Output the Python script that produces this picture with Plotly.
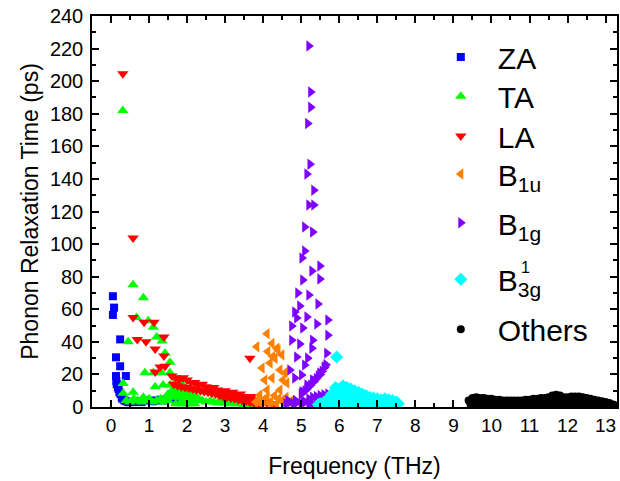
import plotly.graph_objects as go

# ---------------- data ----------------
za_x = [0.05, 0.08, 0.05, 0.24, 0.13, 0.24, 0.39, 0.13, 0.14, 0.15, 0.18, 0.20, 0.22, 0.25, 0.28,
        0.30, 0.35, 0.40, 0.45, 0.50, 0.60, 0.70, 0.80, 0.90, 1.00, 1.10, 1.20, 1.30, 1.40, 1.47, 1.60, 1.70]
za_y = [68, 61, 56.5, 41.5, 30.5, 25, 19, 19, 16, 14, 12, 11, 9, 8, 6,
        5, 4, 3.5, 3, 3, 3, 3.5, 3, 4, 4, 3.5, 4, 4.5, 4, 5, 5, 4]

ta_x = [0.31, 0.58, 0.85, 0.67, 0.98, 1.11, 0.45, 1.20, 1.34, 1.42, 1.55, 0.89, 1.11, 1.33, 1.55,
        1.81, 1.16, 1.37, 1.55, 0.32, 0.32, 0.58, 0.85,
        1.60, 1.65, 1.70, 1.75, 1.80, 1.85, 1.90, 1.95, 2.00, 2.05, 2.10, 2.15, 2.20, 2.25, 2.30,
        1.62, 1.72, 1.82, 1.92, 2.02, 2.12, 1.50, 1.45,
        0.40, 0.50, 0.60, 0.70, 0.80, 0.90, 1.00, 1.10, 1.20, 1.30, 1.40, 1.50,
        2.40, 2.50, 2.60, 2.70, 2.80, 2.90, 3.00, 3.10, 3.20, 3.30, 3.40, 3.50, 3.60, 3.70,
        1.70, 1.80, 1.90, 2.00, 2.10, 2.20]
ta_y = [182, 75, 67, 55, 53, 49, 40, 43, 40.5, 33, 27.5, 21, 21, 21, 21,
        15.5, 12.5, 13.5, 13.5, 14.5, 8.5, 9, 6,
        10, 14, 12, 9, 11, 8, 13, 7, 10, 6, 9, 5, 7, 4, 5,
        6, 7, 6, 5, 4, 4, 8, 6,
        4, 3, 5, 4, 3, 4, 5, 3, 4, 5, 3, 4,
        4, 3, 3.5, 3, 2.5, 3, 2.5, 2, 2.5, 2, 2, 1.5, 1.5, 1,
        2, 2, 2, 2, 2, 2]

la_x = [0.31, 0.58, 0.58, 0.87, 1.13, 0.69, 0.92, 1.16, 1.39, 1.39, 1.16, 1.29, 1.42, 3.65,
        1.60, 1.70, 1.80, 1.90, 2.00, 2.10, 2.20, 2.30, 2.40, 2.50, 2.60, 2.70, 2.80, 2.90,
        3.00, 3.10, 3.20, 3.30, 3.40, 3.50, 3.60, 3.70, 3.80, 3.90, 4.00, 4.10, 4.20, 4.30,
        1.65, 1.75, 1.85, 1.95, 2.05, 2.15, 2.25, 2.35, 2.45, 2.55, 2.65, 2.75, 2.85, 2.95,
        3.05, 3.15, 3.25, 3.35, 3.45, 3.55, 3.65, 3.75, 3.85, 3.95]
la_y = [204.5, 103.7, 55, 52, 52, 41.5, 40, 35.6, 43, 31.3, 21.5, 24.6, 25, 30,
        19, 18, 17, 18, 16.5, 15, 15, 13.5, 14, 12.5, 11.5, 12, 10.5, 9.5,
        10, 8.5, 9, 7.5, 8, 6.5, 6, 6.5, 4.5, 4, 3, 2.5, 2, 1.5,
        14, 13, 12.5, 12, 11.5, 11, 10.5, 10, 9.5, 9, 8.5, 8, 7, 6.5,
        6, 5.5, 5, 4.5, 4, 3.5, 3, 2.5, 2, 1.5]

b1u_x = [4.10, 3.83, 4.23, 4.12, 4.39, 4.49, 4.31, 3.97, 4.44, 4.23, 4.57, 4.04, 4.10, 4.44, 4.62,
         3.91, 4.36, 4.25, 4.52, 4.18,
         3.80, 3.90, 4.00, 4.10, 4.20, 4.30, 4.40, 4.50, 4.60, 4.70, 4.80, 3.95, 4.15, 4.35, 4.55, 4.75]
b1u_y = [45, 37, 39, 34, 35, 32, 30, 24, 22.7, 17.8, 21, 16.6, 10.4, 10.4, 14.7,
         7.4, 36, 31, 16.6, 27,
         3, 5, 4, 6, 3, 7, 5, 4, 6, 3, 2, 2, 2.5, 2, 3, 4]

b1g_x = [5.20, 5.25, 5.25, 5.17, 5.23, 5.15, 5.33, 5.20, 5.33, 5.09, 5.30, 5.09, 5.02, 5.28, 5.49,
         5.04, 5.49, 4.91, 5.20, 4.96, 5.44, 4.83, 4.88, 5.15, 4.75, 5.04, 5.41, 5.70, 4.75, 4.96,
         5.30, 5.70, 5.28, 4.88, 5.17, 5.67, 5.09, 5.62, 4.70, 5.01, 5.49, 5.30, 4.83, 5.15, 5.02,
         5.00, 5.05, 5.10, 5.15, 5.20, 5.25, 5.30, 5.35, 5.40, 5.45, 5.50, 5.55, 5.60, 5.65,
         5.20, 5.30, 5.40, 5.50, 5.60, 5.70, 5.75,
         4.60, 4.65, 4.70, 4.80, 4.85, 4.90, 5.00, 5.05, 5.10, 5.20, 5.30]
b1g_y = [221.6, 193.4, 184, 174, 149, 143, 133, 124, 124, 110.5, 107.4, 95.8, 91.5, 83.5, 86.6,
         78, 78.6, 70, 68.8, 62, 63.2, 58.3, 54.6, 55.2, 49.7, 48.5, 51, 53.4, 41, 38.7,
         41, 44, 36, 30.7, 30, 33, 25.8, 24.6, 22.7, 19.6, 20.9, 16.6, 17.8, 13.5, 9.2,
         8, 9, 10, 11, 12.5, 13.5, 15, 16, 17.5, 19, 20, 22, 24, 26,
         5, 6, 6.5, 7, 7.5, 8, 7,
         2, 4, 3, 2, 4, 3, 2, 4, 3, 2, 2]

b3g_x = [5.93,
         5.50, 5.60, 5.70, 5.80, 5.90, 6.00, 6.10, 6.20, 6.30, 6.40, 6.50, 6.60, 6.70, 6.80,
         6.90, 7.00, 7.10, 7.20, 7.30, 7.40, 7.50, 7.55,
         5.85, 5.95, 6.05, 6.15, 6.25, 6.35, 6.45, 6.55,
         5.45, 5.55, 5.65, 5.75, 5.85, 5.95, 6.05, 6.15, 6.25, 6.35, 6.45, 6.55, 6.65, 6.75,
         6.85, 6.95, 7.05, 7.15, 7.25, 7.35, 7.45]
b3g_y = [30.7,
         2, 3, 5, 8, 12, 11, 13, 12, 11, 10, 9, 8, 7, 6,
         5.5, 5, 4.5, 5, 4.5, 4, 3, 2,
         6, 7, 7, 6.5, 6, 6, 5, 4.5,
         1.5, 1.5, 1.5, 1.5, 1.5, 1.5, 1.5, 1.5, 1.5, 1.5, 1.5, 1.5, 1.5, 1.5,
         1.5, 1.5, 1.5, 1.5, 1.5, 1.5, 1.5]

others_x = [9.40, 9.50, 9.60, 9.70, 9.80, 9.90, 10.00, 10.10, 10.20, 10.30, 10.40, 10.50, 10.60,
            10.70, 10.80, 10.90, 11.00, 11.10, 11.20, 11.30, 11.40, 11.50, 11.60, 11.70, 11.80,
            11.90, 12.00, 12.10, 12.20, 12.30, 12.40, 12.50, 12.60, 12.70, 12.80, 12.90, 13.00,
            13.10, 13.20,
            9.45, 9.55, 9.65, 9.75, 9.85, 9.95, 10.05, 10.15, 10.25, 10.35, 10.45, 10.55, 10.65,
            10.75, 10.85, 10.95, 11.05, 11.15, 11.25, 11.35, 11.45, 11.55, 11.65, 11.75, 11.85,
            11.95, 12.05, 12.15, 12.25, 12.35, 12.45, 12.55, 12.65, 12.75, 12.85, 12.95, 13.05,
            13.15, 13.25,
            9.55, 9.65, 9.75, 11.55, 11.65, 11.75, 11.85, 12.05, 12.15, 12.25, 12.35, 12.45]
others_y = [4, 5.5, 6, 5.5, 5.5, 5, 5, 4.5, 4.5, 4, 4, 4, 4,
            4, 4, 4.5, 4.5, 5, 5, 5.5, 5.5, 6, 7, 7.5, 7,
            6, 6, 6.5, 6.5, 6.5, 6, 5.5, 5, 4.5, 4, 3.5, 3,
            2.5, 1.5,
            1.5, 1.5, 1.5, 1.5, 1.5, 1.5, 1.5, 1.5, 1.5, 1.5, 1.5, 1.5, 1.5,
            1.5, 1.5, 1.5, 1.5, 1.5, 1.5, 1.5, 1.5, 1.5, 1.5, 1.5, 1.5,
            1.5, 1.5, 1.5, 1.5, 1.5, 1.5, 1.5, 1.5, 1.5, 1.5, 1.5, 1.5,
            1.2, 1.0,
            3.5, 3.5, 3.5, 4, 4.5, 4.5, 4, 4, 4, 4, 4, 3.5]

series = [
    ("ZA", za_x, za_y, "square", "#0000FF", 8),
    ("TA", ta_x, ta_y, "triangle-up", "#00FF00", 10),
    ("LA", la_x, la_y, "triangle-down", "#FF0000", 10),
    ("B<sub>1u</sub>", b1u_x, b1u_y, "triangle-left", "#FF8000", 10),
    ("B<sub>1g</sub>", b1g_x, b1g_y, "triangle-right", "#8000FF", 10),
    ("B<sub>3g</sub>", b3g_x, b3g_y, "diamond", "#00FFFF", 10),
    ("Others", others_x, others_y, "circle", "#000000", 8),
]
# vertical position (paper fraction) of each legend entry
legend_pos = [0.895, 0.795, 0.693, 0.596, 0.471, 0.327, 0.199]

FONT = "Liberation Sans, Arial, sans-serif"

fig = go.Figure()
legend_layout = {}
for i, (name, xs, ys, sym, col, sz) in enumerate(series):
    lname = "legend" if i == 0 else f"legend{i + 1}"
    fig.add_trace(go.Scatter(
        x=xs, y=ys, mode="markers", name=name, legend=lname,
        marker=dict(symbol=sym, color=col, size=sz, line=dict(width=0)),
    ))
    legend_layout[lname] = dict(
        x=0.632, y=legend_pos[i], xanchor="left", yanchor="middle",
        font=dict(size=30, family=FONT, color="black"),
        itemwidth=64, bgcolor="rgba(0,0,0,0)",
    )

fig.update_layout(
    width=620, height=481,
    margin=dict(l=92, r=3, t=16, b=74, autoexpand=False),
    paper_bgcolor="white", plot_bgcolor="white",
    font=dict(family=FONT, color="black", size=19),
    xaxis=dict(
        range=[-0.5, 13.3], dtick=1, tick0=0,
        showline=True, linecolor="black", linewidth=1.5, mirror="allticks",
        ticks="inside", ticklen=7, tickwidth=1.5, tickcolor="black",
        minor=dict(ticks="inside", ticklen=4, tickwidth=1.5, dtick=0.5, tickcolor="black"),
        showgrid=False, zeroline=False,
        tickfont=dict(size=19, family=FONT), automargin=False,
        title=dict(text="Frequency (THz)", font=dict(size=23, family=FONT), standoff=23),
    ),
    yaxis=dict(
        range=[0, 240], dtick=20, tick0=0,
        showline=True, linecolor="black", linewidth=1.5, mirror="allticks",
        ticks="inside", ticklen=7, tickwidth=1.5, tickcolor="black",
        minor=dict(ticks="inside", ticklen=4, tickwidth=1.5, dtick=10, tickcolor="black"),
        showgrid=False, zeroline=False,
        tickfont=dict(size=20, family=FONT), automargin=False, ticklabelstandoff=3,
        title=dict(text="Phonon Relaxation Time (ps)", font=dict(size=23, family=FONT), standoff=5),
    ),
    showlegend=True,
    **legend_layout,
)

fig.add_annotation(
    text="1", xref="paper", yref="paper", x=0.838, y=0.358,
    showarrow=False, font=dict(size=16, family=FONT, color="black"),
)

fig.write_html("out.html", config={"displayModeBar": False},
               post_script="document.body.style.margin='0';")
